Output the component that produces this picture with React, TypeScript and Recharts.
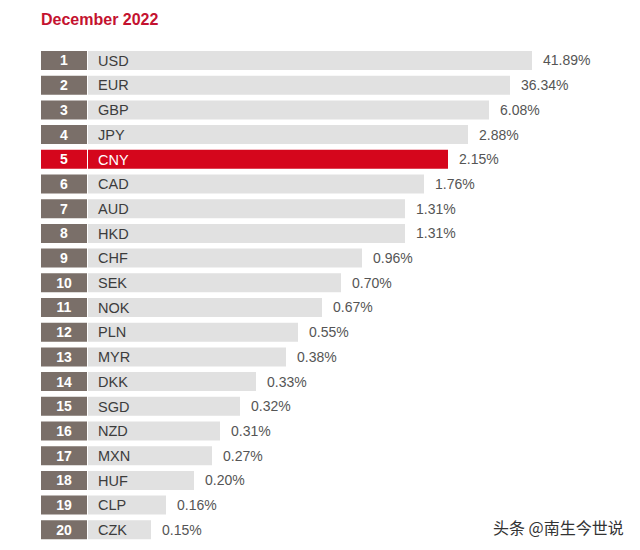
import { Bar, BarChart, Cell, LabelList, XAxis, YAxis } from 'recharts'

const codes = ['USD', 'EUR', 'GBP', 'JPY', 'CNY', 'CAD', 'AUD', 'HKD', 'CHF', 'SEK', 'NOK', 'PLN', 'MYR', 'DKK', 'SGD', 'NZD', 'MXN', 'HUF', 'CLP', 'CZK']
const shares = [41.89, 36.34, 6.08, 2.88, 2.15, 1.76, 1.31, 1.31, 0.96, 0.7, 0.67, 0.55, 0.38, 0.33, 0.32, 0.31, 0.27, 0.2, 0.16, 0.15]
// drawn bar lengths (not proportional to share)
const barLengths = [444, 422, 401, 380, 360, 336, 317, 317, 274, 253, 234, 210, 198, 168, 152, 132, 124, 106, 78, 63]
const highlight = 'CNY'

const data = codes.map((code, i) => ({
  rank: i + 1,
  code,
  share: shares[i],
  box: 46,
  gap: 1,
  length: barLengths[i],
}))

const RED = '#d5061c'
const BOX = '#7a6f69'
const BAR = '#e1e1e1'

export default function App() {
  return (
    <div style={{ position: 'relative', width: 624, height: 534, fontFamily: 'Arial, "Liberation Sans", sans-serif', background: '#fff' }}>
      <div style={{ position: 'absolute', left: 33, top: 3, fontSize: 16, fontWeight: 700, color: '#c4122f' }}>December 2022</div>
      <BarChart width={624} height={534} data={data} layout="vertical" margin={{ top: 40, right: 0, bottom: 0, left: 33 }} barSize={19}>
        <XAxis type="number" domain={[0, 591]} hide />
        <YAxis type="category" dataKey="code" hide />
        <Bar dataKey="box" stackId="a" isAnimationActive={false}>
          {data.map((d) => (
            <Cell key={d.code} fill={d.code === highlight ? RED : BOX} />
          ))}
          <LabelList dataKey="rank" position="center" fill="#fff" fontSize={14} fontWeight={700} />
        </Bar>
        <Bar dataKey="gap" stackId="a" fill="transparent" isAnimationActive={false} />
        <Bar dataKey="length" stackId="a" isAnimationActive={false}>
          {data.map((d) => (
            <Cell key={d.code} fill={d.code === highlight ? RED : BAR} />
          ))}
          <LabelList
            dataKey="code"
            position="insideLeft"
            offset={10}
            fontSize={14}
            content={(p: any) => (
              <text x={p.x + 10} y={p.y + p.height / 2} dy="0.36em" fontSize={14.5} fill={p.value === highlight ? '#fff' : '#3c3c3c'}>
                {p.value}
              </text>
            )}
          />
          <LabelList dataKey="share" position="right" offset={11} fontSize={14} fill="#555" formatter={(v: any) => `${Number(v).toFixed(2)}%`} />
        </Bar>
      </BarChart>
      <div
        style={{
          position: 'absolute',
          left: 485,
          top: 507,
          fontSize: 16,
          fontFamily: '"Noto Sans CJK SC", sans-serif',
          color: '#333',
          textShadow: '0 0 2px #fff, 0 0 2px #fff',
          whiteSpace: 'nowrap',
        }}
      >
        头条 @南生今世说
      </div>
    </div>
  )
}
